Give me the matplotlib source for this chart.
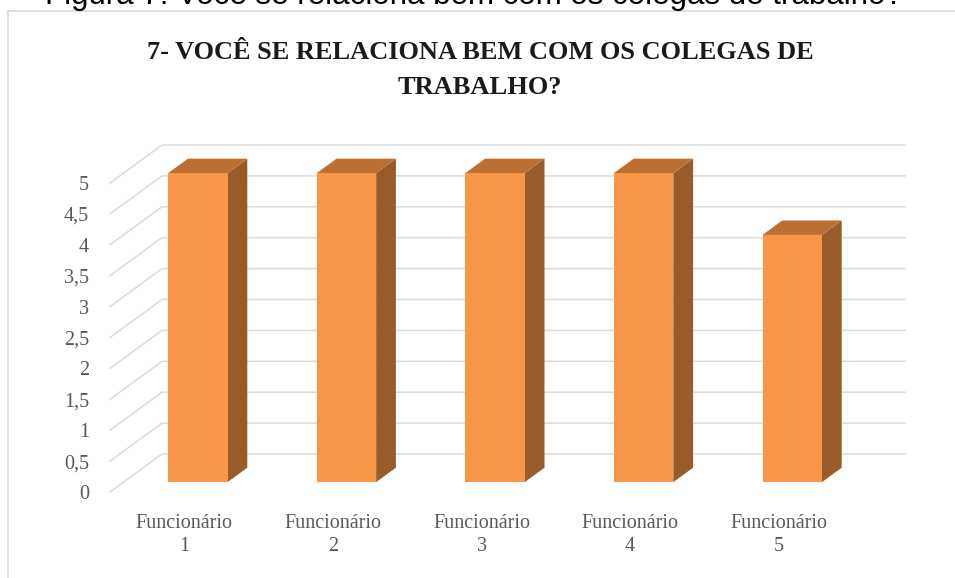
import matplotlib
matplotlib.use("Agg")
import matplotlib.pyplot as plt
from matplotlib.patches import Polygon
from matplotlib.lines import Line2D

# data
categorias = ["Funcionário\n1", "Funcionário\n2", "Funcionário\n3", "Funcionário\n4", "Funcionário\n5"]
valores = [5, 5, 5, 5, 4]
ticks_y = [0, 0.5, 1, 1.5, 2, 2.5, 3, 3.5, 4, 4.5, 5]
rotulos_y = ["0", "0,5", "1", "1,5", "2", "2,5", "3", "3,5", "4", "4,5", "5"]

titulo = "7- VOCÊ SE RELACIONA BEM COM OS COLEGAS DE\nTRABALHO?"
legenda_fig = "Figura 7: Você se relaciona bem com os colegas de trabalho?"

W, H = 955, 578
fig = plt.figure(figsize=(W / 100, H / 100), dpi=100)

# caption above the chart (cut by the top edge, like the reference)
fig.text(474 / W, 1 - 4 / H, legenda_fig, family="Liberation Sans", fontsize=22.5,
         ha="center", va="baseline", color="black")

# chart frame
fig.add_artist(Line2D([8 / W, 8 / W], [0, 1 - 11 / H], transform=fig.transFigure,
                      color="#d9d9d9", lw=1.2))
fig.add_artist(Line2D([8 / W, 1], [1 - 11 / H, 1 - 11 / H], transform=fig.transFigure,
                      color="#d9d9d9", lw=1.2))

# front plane of the 3D chart
ax = fig.add_axes([110 / W, (H - 492) / H, 743 / W, 309 / H])
n = len(categorias)
ax.set_xlim(-0.5, n - 0.5)
ax.set_ylim(0, 5)
for s in ax.spines.values():
    s.set_visible(False)

# depth of the box (back wall offset) in data units
dx = 52 / 148.6
dy = 38 / 61.8
grid_c = "#dadada"
for v in ticks_y:
    ax.plot([-0.5, -0.5 + dx, n - 0.5 + dx], [v, v + dy, v + dy],
            color=grid_c, lw=1.1, clip_on=False, zorder=1)

# bars
t0, t1 = 0.26, 0.64
w = 0.40
c_front, c_top, c_side = "#f79646", "#bb6f32", "#9a5b2a"
for i, v in enumerate(valores):
    xl = i - w / 2 + t0 * dx
    xr = i + w / 2 + t0 * dx
    y0 = t0 * dy
    y1 = v + t0 * dy
    ox = (t1 - t0) * dx
    oy = (t1 - t0) * dy
    side = Polygon([(xr, y0), (xr + ox, y0 + oy), (xr + ox, y1 + oy), (xr, y1)],
                   closed=True, facecolor=c_side, edgecolor="none", clip_on=False, zorder=3)
    top = Polygon([(xl, y1), (xr, y1), (xr + ox, y1 + oy), (xl + ox, y1 + oy)],
                  closed=True, facecolor=c_top, edgecolor="none", clip_on=False, zorder=3)
    front = Polygon([(xl, y0), (xr, y0), (xr, y1), (xl, y1)],
                    closed=True, facecolor=c_front, edgecolor="none", clip_on=False, zorder=4)
    ax.add_patch(side)
    ax.add_patch(top)
    ax.add_patch(front)

ax.set_yticks(ticks_y)
ax.set_yticklabels(rotulos_y, family="Liberation Serif", fontsize=14.5, color="#595959")
ax.set_xticks(range(n))
ax.set_xticklabels(categorias, family="Liberation Serif", fontsize=14.5, color="#595959",
                   linespacing=1.3)
ax.tick_params(axis="y", length=0, pad=15)
ax.tick_params(axis="x", length=0, pad=16)

fig.text(480 / W, 1 - 70 / H, titulo, family="Liberation Serif", fontweight="bold",
         fontsize=19, ha="center", va="center", color="#1a1a1a", linespacing=1.7)

fig.savefig("out.png", dpi=100)
